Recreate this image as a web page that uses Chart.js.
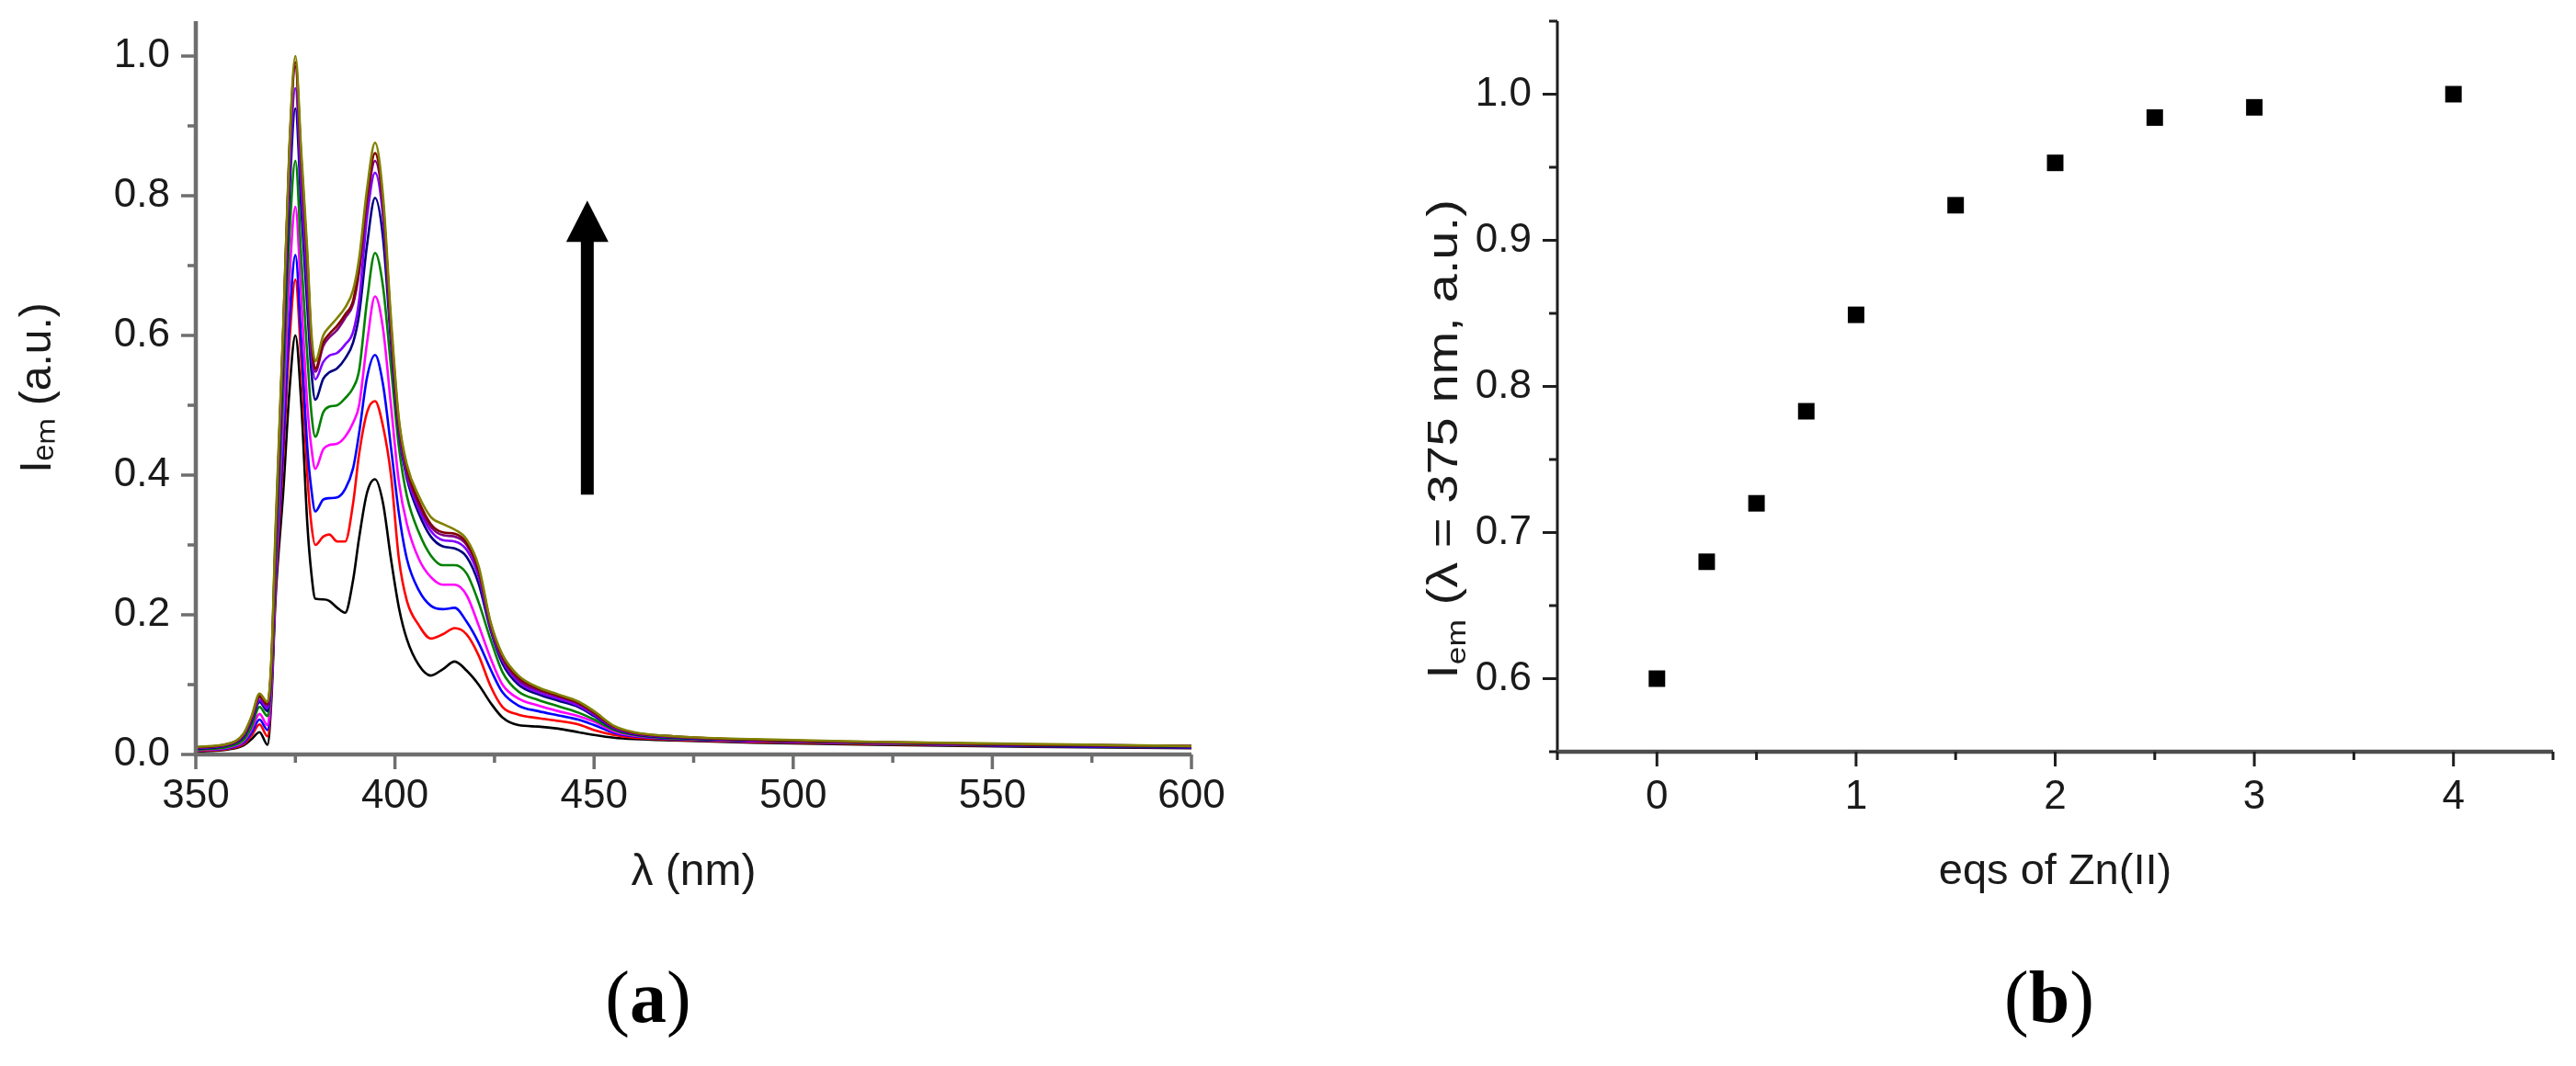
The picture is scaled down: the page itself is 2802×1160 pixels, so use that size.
<!doctype html>
<html lang="en">
<head>
<meta charset="utf-8" />
<title>Zn(II) titration emission</title>
<script src="https://cdn.jsdelivr.net/npm/chart.js/dist/chart.umd.min.js"></script>
<style>
  html, body { margin: 0; padding: 0; background: #fff; }
  body { width: 2802px; height: 1160px; position: relative; overflow: hidden; }
  .panel { position: absolute; top: 0; }
  #panelA { left: 0; }
  #panelB { left: 1400px; }
  .tag {
    position: absolute; top: 1040px;
    font-family: "Liberation Serif", "Times New Roman", serif;
    font-size: 80px; line-height: 90px;
    transform: translateX(-50%);
  }
</style>
</head>
<body>
<div class="panel" id="panelA"><canvas id="spectra" width="1400" height="1010"></canvas></div>
<div class="panel" id="panelB"><canvas id="titration" width="1402" height="1010"></canvas></div>
<div class="tag" style="left:705px">(<b>a</b>)</div>
<div class="tag" style="left:2229px">(<b>b</b>)</div>

<script>
// ---- panel (a): emission spectra, one per Zn(II) addition ----
const wavelengths = [350, 358, 362, 364, 366, 368, 369, 370, 372, 373.5, 375, 376.5, 378, 379, 380, 382, 383.5, 385.5, 387.5, 389.5, 391, 393, 395, 397, 399, 401, 403, 406, 409, 412, 415, 418, 421, 424, 427, 431, 436, 441, 446, 450, 455, 460, 470, 490, 520, 560, 600];

const emBlack   = [0.004, 0.007, 0.013, 0.022, 0.032, 0.014, 0.08, 0.22, 0.38, 0.52, 0.600, 0.50, 0.33, 0.26, 0.223, 0.222, 0.220, 0.210, 0.203, 0.25, 0.31, 0.375, 0.394, 0.36, 0.28, 0.21, 0.165, 0.128, 0.113, 0.122, 0.133, 0.120, 0.100, 0.074, 0.053, 0.042, 0.040, 0.037, 0.032, 0.028, 0.024, 0.022, 0.020, 0.017, 0.014, 0.011, 0.009];
const emRed     = [0.005, 0.008, 0.015, 0.027, 0.043, 0.026, 0.09, 0.23, 0.43, 0.59, 0.680, 0.56, 0.40, 0.33, 0.300, 0.312, 0.315, 0.305, 0.305, 0.36, 0.43, 0.49, 0.506, 0.47, 0.40, 0.28, 0.22, 0.185, 0.166, 0.172, 0.181, 0.172, 0.142, 0.098, 0.068, 0.057, 0.052, 0.048, 0.043, 0.035, 0.028, 0.024, 0.021, 0.018, 0.015, 0.012, 0.010];
const emBlue    = [0.006, 0.009, 0.017, 0.031, 0.050, 0.035, 0.095, 0.24, 0.45, 0.62, 0.715, 0.59, 0.44, 0.38, 0.348, 0.365, 0.367, 0.368, 0.380, 0.41, 0.46, 0.54, 0.572, 0.53, 0.44, 0.345, 0.28, 0.235, 0.213, 0.208, 0.210, 0.190, 0.160, 0.122, 0.089, 0.070, 0.062, 0.056, 0.050, 0.042, 0.031, 0.026, 0.022, 0.019, 0.016, 0.012, 0.010];
const emMagenta = [0.006, 0.010, 0.019, 0.036, 0.058, 0.042, 0.10, 0.25, 0.49, 0.68, 0.784, 0.65, 0.50, 0.44, 0.409, 0.437, 0.443, 0.445, 0.455, 0.475, 0.50, 0.59, 0.656, 0.61, 0.50, 0.39, 0.33, 0.280, 0.254, 0.243, 0.243, 0.228, 0.185, 0.138, 0.100, 0.080, 0.070, 0.062, 0.055, 0.047, 0.033, 0.027, 0.023, 0.019, 0.016, 0.013, 0.011];
const emGreen   = [0.007, 0.011, 0.021, 0.040, 0.068, 0.055, 0.11, 0.26, 0.53, 0.74, 0.850, 0.71, 0.57, 0.49, 0.455, 0.490, 0.498, 0.500, 0.510, 0.525, 0.55, 0.65, 0.718, 0.67, 0.555, 0.44, 0.37, 0.318, 0.285, 0.271, 0.271, 0.259, 0.218, 0.165, 0.118, 0.090, 0.078, 0.069, 0.060, 0.050, 0.035, 0.028, 0.023, 0.020, 0.016, 0.013, 0.011];
const emNavy    = [0.008, 0.013, 0.025, 0.047, 0.075, 0.062, 0.12, 0.28, 0.57, 0.80, 0.925, 0.78, 0.64, 0.55, 0.508, 0.538, 0.547, 0.553, 0.567, 0.590, 0.63, 0.73, 0.797, 0.74, 0.59, 0.46, 0.395, 0.345, 0.312, 0.298, 0.295, 0.283, 0.245, 0.178, 0.130, 0.100, 0.086, 0.077, 0.068, 0.055, 0.037, 0.029, 0.024, 0.020, 0.017, 0.013, 0.011];
const emViolet  = [0.009, 0.014, 0.027, 0.050, 0.078, 0.066, 0.125, 0.29, 0.59, 0.83, 0.954, 0.81, 0.67, 0.575, 0.537, 0.562, 0.571, 0.575, 0.587, 0.605, 0.65, 0.77, 0.833, 0.77, 0.60, 0.465, 0.40, 0.352, 0.320, 0.307, 0.305, 0.293, 0.255, 0.182, 0.135, 0.104, 0.089, 0.080, 0.070, 0.057, 0.038, 0.030, 0.025, 0.021, 0.017, 0.014, 0.012];
const emPurple  = [0.010, 0.014, 0.028, 0.052, 0.082, 0.070, 0.13, 0.30, 0.61, 0.86, 0.985, 0.84, 0.70, 0.59, 0.548, 0.585, 0.597, 0.608, 0.625, 0.645, 0.69, 0.79, 0.850, 0.785, 0.61, 0.47, 0.405, 0.358, 0.326, 0.314, 0.312, 0.300, 0.262, 0.185, 0.138, 0.107, 0.092, 0.083, 0.073, 0.059, 0.039, 0.031, 0.025, 0.021, 0.017, 0.014, 0.012];
const emWine    = [0.010, 0.015, 0.029, 0.053, 0.084, 0.072, 0.135, 0.31, 0.615, 0.865, 0.991, 0.85, 0.71, 0.595, 0.552, 0.590, 0.602, 0.614, 0.630, 0.650, 0.70, 0.80, 0.861, 0.79, 0.615, 0.475, 0.41, 0.362, 0.330, 0.318, 0.316, 0.303, 0.265, 0.188, 0.140, 0.110, 0.094, 0.084, 0.074, 0.060, 0.040, 0.031, 0.026, 0.021, 0.018, 0.014, 0.012];
const emOlive   = [0.011, 0.015, 0.030, 0.055, 0.087, 0.075, 0.14, 0.32, 0.62, 0.87, 1.000, 0.86, 0.72, 0.605, 0.563, 0.600, 0.612, 0.625, 0.640, 0.665, 0.71, 0.81, 0.876, 0.80, 0.625, 0.48, 0.415, 0.370, 0.340, 0.330, 0.322, 0.308, 0.270, 0.190, 0.143, 0.113, 0.096, 0.086, 0.076, 0.062, 0.041, 0.032, 0.026, 0.022, 0.018, 0.015, 0.012];

const spectra = [emBlack, emRed, emBlue, emMagenta, emGreen, emNavy, emViolet, emPurple, emWine, emOlive];
const spectraColors = ["#000000", "#ff0000", "#0000ff", "#ff00ff", "#008000", "#000080", "#8000ff", "#800080", "#800000", "#808000"];

const lambdaTicks = [350, 400, 450, 500, 550, 600];
const lambdaMinor = [375, 425, 475, 525, 575];
const emTicks = [0, 0.2, 0.4, 0.6, 0.8, 1.0];
const emMinor = [0.1, 0.3, 0.5, 0.7, 0.9];

// the big "increasing" arrow
const arrowLambda = 448.3;
const arrowFrom = 0.372;
const arrowTo = 0.793;

// ---- panel (b): intensity at 375 nm vs equivalents ----
const zincEqs = [0, 0.25, 0.5, 0.75, 1, 1.5, 2, 2.5, 3, 4];
const emAt375 = [0.600, 0.680, 0.720, 0.783, 0.849, 0.924, 0.953, 0.984, 0.991, 1.000];

const eqTicks = [0, 1, 2, 3, 4];
const eqMinor = [-0.5, 0.5, 1.5, 2.5, 3.5, 4.5];
const em375Ticks = [0.6, 0.7, 0.8, 0.9, 1.0];
const em375Minor = [0.55, 0.65, 0.75, 0.85, 0.95, 1.05];

const sans = "'Liberation Sans', Arial, sans-serif";
const narrow = "'Liberation Sans Narrow', 'Liberation Sans', Arial, sans-serif";

// draws the axis lines plus major/minor tick marks like the Origin plot
function axisFrame(cfg) {
  return {
    id: "axisFrame",
    afterDraw(chart) {
      const { ctx, chartArea: { left, right, top, bottom }, scales: { x, y } } = chart;
      ctx.save();
      ctx.lineCap = "butt";
      const seg = (x1, y1, x2, y2) => {
        ctx.beginPath();
        ctx.moveTo(x1, y1);
        ctx.lineTo(x2, y2);
        ctx.stroke();
      };
      ctx.strokeStyle = cfg.yColor;
      ctx.lineWidth = cfg.yWidth;
      seg(left, top, left, bottom);
      ctx.strokeStyle = cfg.xColor;
      ctx.lineWidth = cfg.xWidth;
      seg(left - cfg.yWidth / 2, bottom, right, bottom);

      ctx.strokeStyle = cfg.tickColor;
      ctx.lineWidth = cfg.tickWidth;
      cfg.xMajor.forEach((v) => { const p = x.getPixelForValue(v); seg(p, bottom, p, bottom + cfg.major); });
      cfg.xMinor.forEach((v) => { const p = x.getPixelForValue(v); seg(p, bottom, p, bottom + cfg.minor); });
      cfg.yMajor.forEach((v) => { const p = y.getPixelForValue(v); seg(left, p, left - cfg.major, p); });
      cfg.yMinor.forEach((v) => { const p = y.getPixelForValue(v); seg(left, p, left - cfg.minor, p); });
      ctx.restore();
    },
  };
}

// rotated y title with a real subscript, stretched along its length like the original
function sideTitle(cfg) {
  return {
    id: "sideTitle",
    afterDraw(chart) {
      const { ctx } = chart;
      const big = `${cfg.size}px ${sans}`;
      const small = `${Math.round(cfg.size * 0.62)}px ${sans}`;
      ctx.save();
      ctx.font = big;
      const wMain = ctx.measureText(cfg.main).width;
      const wRest = ctx.measureText(cfg.rest).width;
      ctx.font = small;
      const wSub = ctx.measureText(cfg.sub).width;
      const total = wMain + wSub + wRest;
      ctx.translate(cfg.x, cfg.y);
      ctx.rotate(-Math.PI / 2);
      ctx.scale(cfg.stretch, 1);
      ctx.fillStyle = "#1a1a1a";
      ctx.textBaseline = "alphabetic";
      ctx.textAlign = "left";
      const base = cfg.size * 0.36;
      let cx = -total / 2;
      ctx.font = big;
      ctx.fillText(cfg.main, cx, base);
      cx += wMain;
      ctx.font = small;
      ctx.fillText(cfg.sub, cx, base + cfg.size * 0.2);
      cx += wSub;
      ctx.font = big;
      ctx.fillText(cfg.rest, cx, base);
      ctx.restore();
    },
  };
}

const bigArrow = {
  id: "bigArrow",
  afterDatasetsDraw(chart) {
    const { ctx, scales: { x, y } } = chart;
    const px = x.getPixelForValue(arrowLambda);
    const yFrom = y.getPixelForValue(arrowFrom);
    const yTo = y.getPixelForValue(arrowTo);
    const headH = 45, headW = 46, shaft = 14;
    ctx.save();
    ctx.fillStyle = "#000";
    ctx.fillRect(px - shaft / 2, yTo + headH - 1, shaft, yFrom - yTo - headH + 1);
    ctx.beginPath();
    ctx.moveTo(px, yTo);
    ctx.lineTo(px + headW / 2, yTo + headH);
    ctx.lineTo(px - headW / 2, yTo + headH);
    ctx.closePath();
    ctx.fill();
    ctx.restore();
  },
};

// ---- chart (a) ----
new Chart(document.getElementById("spectra"), {
  type: "line",
  data: {
    datasets: spectra.map((vals, i) => ({
      data: wavelengths.map((w, k) => ({ x: w, y: vals[k] })),
      borderColor: spectraColors[i],
      borderWidth: 2.6,
      pointRadius: 0,
      fill: false,
      cubicInterpolationMode: "monotone",
      order: spectra.length - i,
    })),
  },
  options: {
    responsive: false,
    animation: false,
    events: [],
    layout: { padding: { top: 23, left: 0, right: 104, bottom: 0 } },
    plugins: { legend: { display: false }, tooltip: { enabled: false } },
    scales: {
      x: {
        type: "linear",
        min: 350,
        max: 600,
        grid: { display: false, drawTicks: false },
        border: { display: false },
        afterBuildTicks: (s) => { s.ticks = lambdaTicks.map((v) => ({ value: v })); },
        afterFit: (s) => { s.height = 189; s.paddingLeft = 0; s.paddingRight = 0; },
        ticks: {
          padding: 19, autoSkip: false, maxRotation: 0, color: "#1a1a1a",
          font: { family: sans, size: 44 },
          callback: (v) => String(v),
        },
        title: {
          display: true, text: "λ (nm)", color: "#1a1a1a",
          font: { family: sans, size: 48 },
          padding: { top: 0, bottom: 31 },
        },
      },
      y: {
        min: 0,
        max: 1.05,
        grid: { display: false, drawTicks: false },
        border: { display: false },
        afterBuildTicks: (s) => { s.ticks = emTicks.map((v) => ({ value: v })); },
        afterFit: (s) => { s.width = 213; s.paddingTop = 0; s.paddingBottom = 0; },
        ticks: {
          padding: 28, autoSkip: false, color: "#1a1a1a",
          font: { family: sans, size: 44 },
          callback: (v) => v.toFixed(1),
        },
        title: {
          display: true, text: "Iₑₘ (a.u.)", color: "#1a1a1a",
          font: { family: sans, size: 48 },
          padding: { top: 13, bottom: 0 },
        },
      },
    },
  },
  plugins: [
    axisFrame({
      xColor: "#6e6e6e", xWidth: 4.5, yColor: "#6e6e6e", yWidth: 4.5,
      tickColor: "#6e6e6e", tickWidth: 3.5, major: 16, minor: 9,
      xMajor: lambdaTicks, xMinor: lambdaMinor, yMajor: emTicks, yMinor: emMinor,
    }),
    bigArrow,
  ],
});

// ---- chart (b) ----
new Chart(document.getElementById("titration"), {
  type: "scatter",
  data: {
    datasets: [{
      data: zincEqs.map((e, i) => ({ x: e, y: emAt375[i] })),
      pointStyle: "rect",
      pointRadius: 12.7,
      backgroundColor: "#000",
      borderWidth: 0,
    }],
  },
  options: {
    responsive: false,
    animation: false,
    events: [],
    layout: { padding: { top: 23, left: 140, right: 25, bottom: 0 } },
    plugins: { legend: { display: false }, tooltip: { enabled: false } },
    scales: {
      x: {
        type: "linear",
        min: -0.5,
        max: 4.5,
        grid: { display: false, drawTicks: false },
        border: { display: false },
        afterBuildTicks: (s) => { s.ticks = eqTicks.map((v) => ({ value: v })); },
        afterFit: (s) => { s.height = 192; s.paddingLeft = 0; s.paddingRight = 0; },
        ticks: {
          padding: 23, autoSkip: false, maxRotation: 0, color: "#1a1a1a",
          font: { family: narrow, size: 44 },
          callback: (v) => String(v),
        },
        title: {
          display: true, text: "eqs of Zn(II)", color: "#1a1a1a",
          font: { family: sans, size: 47 },
          padding: { top: 0, bottom: 33 },
        },
      },
      y: {
        min: 0.55,
        max: 1.05,
        grid: { display: false, drawTicks: false },
        border: { display: false },
        afterBuildTicks: (s) => { s.ticks = em375Ticks.map((v) => ({ value: v })); },
        afterFit: (s) => { s.width = 154; s.paddingTop = 0; s.paddingBottom = 0; },
        ticks: {
          padding: 28, autoSkip: false, color: "#1a1a1a",
          font: { family: narrow, size: 44 },
          callback: (v) => v.toFixed(1),
        },
        title: { display: false },
      },
    },
  },
  plugins: [
    axisFrame({
      xColor: "#4d4d4d", xWidth: 4.5, yColor: "#1e1e1e", yWidth: 3,
      tickColor: "#1e1e1e", tickWidth: 3, major: 16, minor: 9,
      xMajor: eqTicks, xMinor: eqMinor, yMajor: em375Ticks, yMinor: em375Minor,
    }),
    sideTitle({ main: "I", sub: "em", rest: " (λ = 375 nm, a.u.)", size: 46, stretch: 1.22, x: 168, y: 478 }),
  ],
});
</script>
</body>
</html>
